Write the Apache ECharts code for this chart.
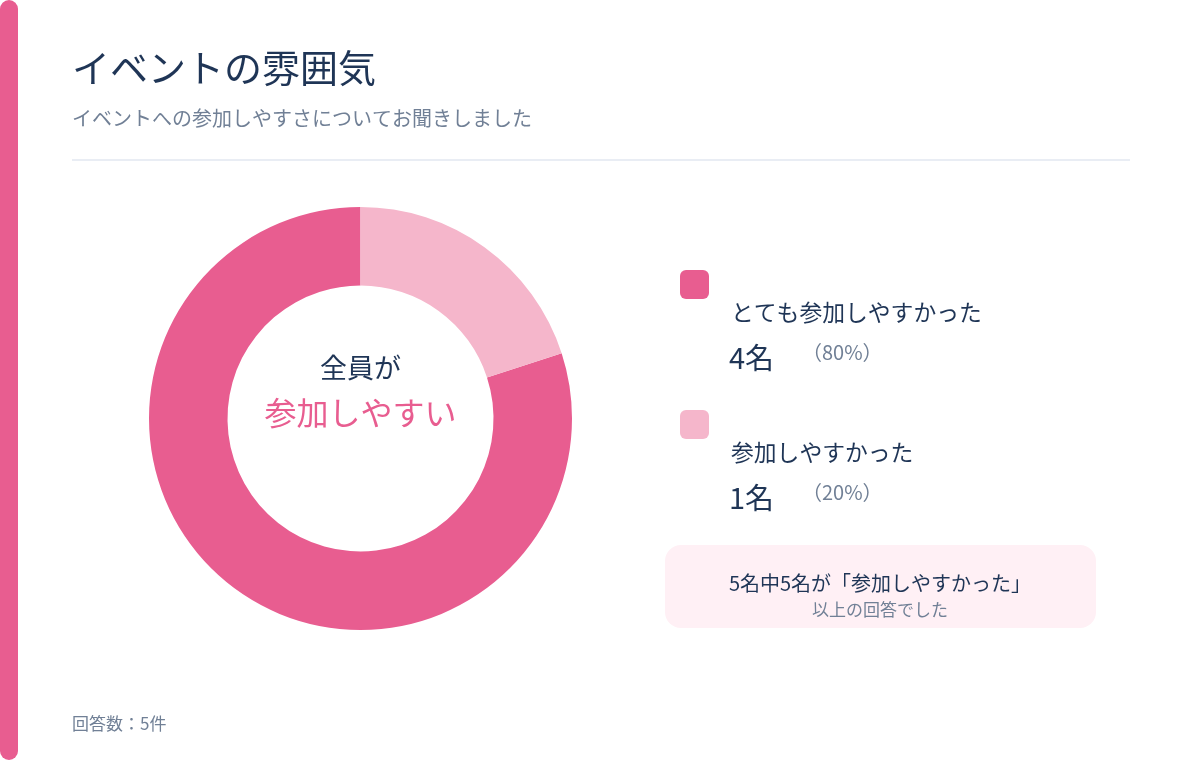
<!DOCTYPE html>
<html>
<head>
<meta charset="utf-8">
<script src="https://cdn.jsdelivr.net/npm/echarts@6/dist/echarts.min.js"></script>
<style>
html,body{margin:0;padding:0;background:#fff;}
#c{width:1200px;height:760px;}
</style>
</head>
<body>
<div id="c"></div>
<script>
const categories = ['とても参加しやすかった', '参加しやすかった'];
const counts = [4, 1];
const percents = ['（80%）', '（20%）'];
const colors = ['#E85D90', '#F5B6CB'];
const titleText = 'イベントの雰囲気';
const subtitleText = 'イベントへの参加しやすさについてお聞きしました';
const centerLine1 = '全員が';
const centerLine2 = '参加しやすい';
const summaryLine1 = '5名中5名が「参加しやすかった」';
const summaryLine2 = '以上の回答でした';
const footerText = '回答数：5件';

const FONT = '"Noto Sans CJK JP", "Noto Sans", sans-serif';
const NAVY = '#1F3556';
const GRAY = '#718096';

const chart = echarts.init(document.getElementById('c'), null, {renderer: 'canvas'});

const legendGraphics = [];
categories.forEach((name, i) => {
  const y0 = 270 + i * 140;
  legendGraphics.push({
    type: 'rect', shape: {x: 680, y: y0, width: 29, height: 29, r: 6},
    style: {fill: colors[i]}
  });
  legendGraphics.push({
    type: 'text', x: 731, y: y0 + 42,
    style: {text: name, font: '400 22.8px ' + FONT, fill: NAVY, textVerticalAlign: 'middle'}
  });
  legendGraphics.push({
    type: 'text', x: 729, y: y0 + 88,
    style: {text: counts[i] + '名', font: '400 29px ' + FONT, fill: NAVY, textVerticalAlign: 'middle'}
  });
  legendGraphics.push({
    type: 'text', x: 802, y: y0 + 82,
    style: {text: percents[i], font: '400 20px ' + FONT, fill: GRAY, textVerticalAlign: 'middle'}
  });
});

chart.setOption({
  animation: false,
  series: [{
    type: 'pie',
    center: [360.5, 418.5],
    radius: [133, 211.5],
    startAngle: 90,
    clockwise: false,
    label: {show: false},
    labelLine: {show: false},
    emphasis: {disabled: true},
    itemStyle: {borderWidth: 0},
    data: categories.map((n, i) => ({name: n, value: counts[i], itemStyle: {color: colors[i]}}))
  }],
  graphic: [
    {type: 'rect', shape: {x: 0, y: 0, width: 18, height: 760, r: 9}, style: {fill: '#E85D90'}},
    {type: 'text', x: 72, y: 68, style: {text: titleText, font: '400 38px ' + FONT, fill: NAVY, textVerticalAlign: 'middle'}},
    {type: 'text', x: 72, y: 118, style: {text: subtitleText, font: '400 20px ' + FONT, fill: GRAY, textVerticalAlign: 'middle'}},
    {type: 'rect', shape: {x: 72, y: 159, width: 1058, height: 2}, style: {fill: '#E9EDF4'}},
    {type: 'text', x: 360.5, y: 368, style: {text: centerLine1, font: '400 27px ' + FONT, fill: NAVY, textAlign: 'center', textVerticalAlign: 'middle'}},
    {type: 'text', x: 360.5, y: 413, style: {text: centerLine2, font: '400 32px ' + FONT, fill: '#E85D90', textAlign: 'center', textVerticalAlign: 'middle'}},
    ...legendGraphics,
    {type: 'rect', shape: {x: 665, y: 545, width: 431, height: 83, r: 16}, style: {fill: '#FFF0F5'}},
    {type: 'text', x: 880, y: 583, style: {text: summaryLine1, font: '400 20px ' + FONT, fill: NAVY, textAlign: 'center', textVerticalAlign: 'middle'}},
    {type: 'text', x: 880, y: 610, style: {text: summaryLine2, font: '400 17px ' + FONT, fill: GRAY, textAlign: 'center', textVerticalAlign: 'middle'}},
    {type: 'text', x: 72, y: 724, style: {text: footerText, font: '400 17px ' + FONT, fill: GRAY, textVerticalAlign: 'middle'}}
  ]
});
</script>
</body>
</html>
